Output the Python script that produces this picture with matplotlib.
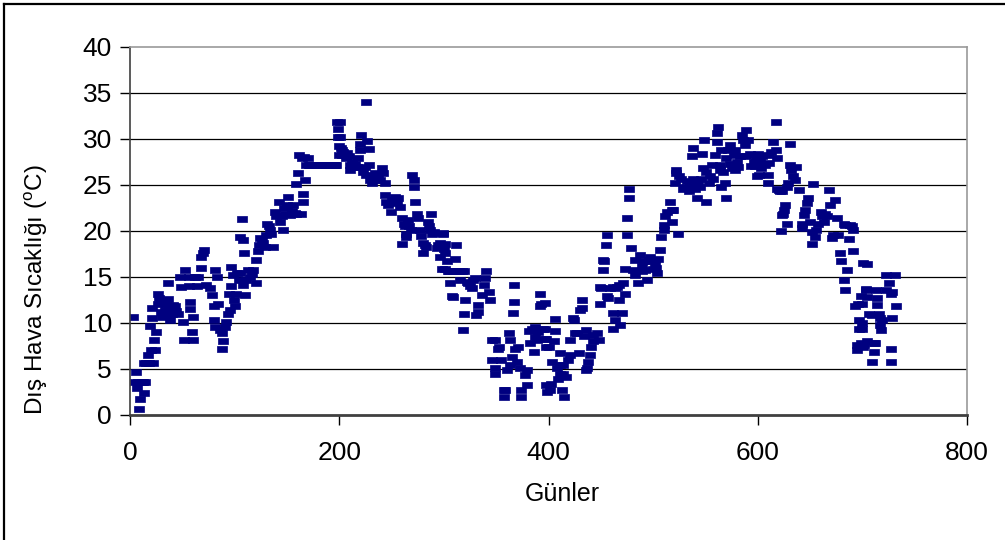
import numpy as np
import matplotlib
matplotlib.use('Agg')
import matplotlib.pyplot as plt
from matplotlib.lines import Line2D

plt.rcParams['font.family'] = ['Liberation Sans', 'DejaVu Sans']
plt.rcParams['mathtext.fontset'] = 'custom'
plt.rcParams['mathtext.rm'] = 'Liberation Sans'

# gün 0-200
gun_1 = [3, 5, 6, 7, 8, 9, 10, 11, 12, 13, 14, 13, 15, 17, 18, 19, 20, 21, 21, 22,
         23, 24, 25, 27, 27, 28, 30, 30, 31, 33, 34, 35, 36, 36, 37, 38, 39, 40, 41, 43,
         44, 46, 48, 49, 51, 52, 53, 56, 56, 57, 57, 59, 60, 60, 62, 64, 65, 68, 68, 70,
         71, 73, 76, 78, 80, 80, 81, 81, 83, 84, 86, 88, 88, 89, 91, 92, 94, 95, 96, 97,
         97, 98, 99, 100,
         101, 102, 104, 105, 105, 107, 108, 108, 109, 110, 111, 113, 115, 117, 118, 120, 120, 122, 123, 124,
         126, 127, 129, 130, 131, 133, 134, 135, 137, 139, 140, 142, 143, 145, 146, 147, 148, 150, 151, 153,
         155, 156, 158, 159, 159, 161, 162, 163, 164, 165, 165, 166, 167, 168, 170,
         171, 172, 173, 174, 175, 176, 177, 178, 179, 180, 181, 182, 183, 184, 185, 186, 187, 188, 189, 190,
         191, 192, 193, 194, 195, 196, 197, 198, 199, 199, 200, 200]
sicaklik_1 = [10.7, 3.6, 4.7, 2.9, 3.6, 0.7, 1.7, 3.6, 3.6, 2.4, 3.6, 5.6, 5.6, 6.5, 5.6, 9.7, 7.1, 11.6, 10.5, 5.6,
              8.2, 7.1, 9.0, 12.1, 13.2, 12.7, 11.2, 12.5, 10.7, 11.4, 12.1, 10.9, 14.4, 12.6, 11.8, 10.3, 11.5, 11.0, 12.0, 11.8,
              11.3, 11.0, 15.0, 13.9, 10.1, 8.2, 15.8, 15.0, 14.0, 12.3, 11.5, 9.0, 8.2, 10.7, 15.0, 14.0, 15.0, 16.0, 17.2, 17.6,
              17.9, 14.1, 13.8, 13.0, 11.8, 10.3, 15.8, 9.6, 15.0, 12.1, 9.2, 8.9, 7.2, 8.0, 9.6, 10.1, 11.0, 13.2, 11.4, 14.0,
              16.1, 15.2, 12.5, 11.8,
              13.2, 15.4, 14.7, 15.4, 19.4, 21.3, 14.1, 19.0, 17.6, 13.0, 14.7, 15.8, 15.0, 15.3, 15.8, 14.3, 16.8, 17.8, 18.5, 19.2,
              19.0, 18.7, 18.3, 19.6, 20.8, 20.5, 20.1, 19.7, 18.3, 22.1, 21.6, 23.2, 21.0, 21.6, 20.1, 22.5, 21.9, 22.8, 23.7, 21.7,
              22.2, 22.8, 22.0, 21.9, 25.1, 26.3, 28.3, 21.9, 27.9, 23.2, 24.0, 28.0, 25.5, 27.2, 27.9,
              27.2, 27.2, 27.2, 27.2, 27.2, 27.2, 27.2, 27.2, 27.2, 27.2, 27.2, 27.2, 27.2, 27.2, 27.2, 27.2, 27.2, 27.2, 27.2, 27.2,
              27.2, 27.2, 27.2, 27.2, 27.2, 27.2, 27.2, 31.9, 31.1, 30.2, 29.2, 28.3]

# gün 200-400
gun_2 = [201, 201, 202, 203, 203, 204, 206, 207, 209, 210, 210, 212, 213, 215, 217, 218, 220, 220, 221, 223,
         225, 226, 226, 227, 228, 228, 229, 231, 232, 234, 235, 237, 239, 241, 242, 244, 244, 245, 247, 249,
         250, 252, 253, 255, 256, 258, 260, 260, 262, 263, 264, 264, 266, 267, 269, 270, 271, 271, 272, 274,
         275, 277, 278, 280, 280, 282, 283, 285, 286, 287, 288, 289, 290, 291, 293, 294, 296, 296, 298, 299,
         299, 300, 301, 301, 301, 303, 304, 305, 306, 308, 309, 309, 311, 312, 312, 314, 315, 317, 318, 319,
         319, 320, 322, 323, 325, 327, 328, 330, 331, 333, 333, 336, 338, 339, 340, 343, 344, 346, 346, 349,
         349, 349, 352, 353, 355, 357, 357, 358, 360, 362, 363, 363, 365, 366, 367, 367, 368, 370, 371, 373,
         374, 374, 378, 379, 379, 381, 382, 384, 386, 387, 387, 389, 390, 392, 392, 393, 395, 397, 398, 398, 399]
sicaklik_2 = [31.9, 30.2, 29.0, 28.8, 28.3, 28.6, 27.9, 28.5, 28.1, 27.2, 26.6, 27.5, 27.0, 27.3, 27.0, 27.9, 28.8, 29.5, 30.4, 26.4,
              27.0, 34.0, 26.1, 29.8, 28.9, 27.2, 25.5, 25.2, 25.8, 26.3, 25.5, 25.9, 25.5, 26.8, 26.3, 25.2, 23.9, 23.2, 22.8, 22.1,
              23.4, 23.2, 23.7, 23.0, 23.6, 22.6, 21.4, 18.6, 20.8, 20.5, 19.7, 19.4, 21.2, 20.5, 20.1, 26.1, 25.5, 24.8, 23.2, 21.8,
              21.4, 20.1, 19.5, 18.7, 17.6, 18.5, 18.3, 21.0, 20.5, 20.1, 21.9, 19.7, 19.8, 19.9, 18.1, 18.5, 18.7, 17.2, 15.9, 19.7,
              19.8, 18.0, 18.6, 17.6, 15.9, 16.7, 15.6, 15.6, 14.4, 12.9, 12.8, 15.6, 17.0, 18.5, 15.6, 15.6, 14.7, 15.6, 9.2, 11.0,
              15.6, 12.5, 14.5, 14.3, 14.0, 13.8, 14.7, 14.9, 10.9, 12.0, 11.2, 13.0, 14.1, 14.9, 15.6, 13.4, 12.5, 8.2, 6.0, 8.2,
              4.5, 5.1, 7.2, 7.4, 6.0, 2.7, 2.0, 2.7, 4.9, 8.9, 8.2, 5.4, 6.3, 11.1, 14.1, 12.3, 7.2, 5.8, 7.4, 5.1,
              2.7, 2.0, 4.3, 4.9, 3.3, 9.1, 7.8, 9.4, 6.9, 8.5, 9.6, 8.2, 9.0, 11.8, 13.2, 12.1, 9.4, 8.3, 7.4, 3.3, 2.5]

# gün 400-600
gun_3 = [397, 397, 398, 400, 401, 402, 403, 405, 406, 406, 408, 409, 411, 411, 411, 413, 414, 414, 415, 417,
         419, 421, 421, 423, 424, 425, 427, 429, 430, 432, 432, 434, 436, 436, 437, 438, 440, 441, 443, 443,
         446, 448, 449, 449, 450, 452, 452, 453, 455, 456, 456, 457, 459, 462, 462, 462, 464, 464, 465, 467,
         467, 468, 470, 471, 473, 473, 475, 475, 477, 477, 479, 481, 483, 483, 486, 487, 489, 489, 491, 492,
         494, 496, 497, 499, 500,
         501, 502, 503, 504, 505, 507, 508, 510, 510, 511, 513, 516, 518, 518, 519, 521, 522, 522, 524, 525,
         527, 529, 530, 532, 534, 535, 537, 538, 538, 540, 542, 543, 545, 546, 547, 548, 549, 551, 551, 553,
         554, 556, 557, 559, 561, 561, 562, 564, 564, 565, 565, 567, 569, 570, 570, 572, 573, 573, 575, 577,
         578, 578, 580, 581, 583, 585, 586, 588, 589, 589, 591, 593, 594, 596, 597, 599, 600]
sicaklik_3 = [12.2, 9.3, 8.3, 7.4, 2.7, 3.4, 5.8, 8.0, 9.1, 10.4, 5.1, 3.9, 4.5, 5.4, 6.7, 2.7, 4.5, 5.4, 2.0, 4.1,
              6.0, 6.5, 8.2, 10.5, 10.3, 8.9, 8.9, 6.7, 11.4, 12.5, 11.6, 8.6, 9.2, 4.9, 5.1, 5.8, 6.5, 7.4, 8.0, 8.7,
              8.9, 8.2, 12.1, 13.9, 13.8, 15.8, 16.8, 16.7, 18.5, 19.6, 12.9, 12.7, 13.8, 13.9, 11.1, 9.4, 13.8, 10.3, 13.9, 12.5,
              14.1, 9.8, 11.1, 14.3, 13.2, 15.9, 19.6, 21.4, 23.6, 24.6, 18.1, 15.8, 16.8, 15.2, 14.3, 17.4, 15.6, 16.2, 16.7, 15.8,
              14.7, 16.8, 17.2, 16.7, 15.9,
              16.8, 16.5, 16.0, 15.4, 17.0, 17.9, 19.4, 20.1, 20.7, 21.6, 22.1, 23.2, 21.0, 22.3, 22.3, 25.2, 26.3, 26.6, 19.7, 26.0,
              25.7, 24.6, 24.8, 25.4, 24.3, 25.0, 28.1, 29.0, 25.7, 24.6, 23.6, 25.2, 24.8, 25.7, 28.4, 26.8, 29.9, 23.2, 26.4, 25.2,
              26.0, 27.2, 25.6, 28.3, 29.7, 30.6, 31.3, 27.2, 26.6, 28.8, 24.8, 26.4, 25.2, 23.6, 27.9, 28.8, 29.3, 27.3, 26.8, 28.3,
              26.6, 28.8, 27.5, 27.0, 28.1, 30.4, 29.9, 29.3, 31.0, 28.1, 29.9, 28.4, 27.1, 27.5, 27.1, 26.0, 28.4]

# gün 600-732
gun_4 = [598, 599, 601, 602, 603, 604, 607, 610, 610, 610, 611, 613, 615, 617, 617, 618, 618, 620, 621, 622,
         623, 623, 624, 625, 626, 628, 628, 629, 631, 631, 632, 634, 636, 637, 639, 642, 642, 644, 645, 647,
         648, 650, 652, 652, 653, 655, 656, 658, 660, 661, 663, 664, 666, 668, 669, 671, 672, 674, 676, 677,
         679, 680, 682, 682, 683, 683, 685, 687, 688, 690, 691, 691, 693, 695, 695, 696, 697, 697, 699, 699,
         700, 700, 700, 701, 701, 702, 703, 703, 704, 704, 704, 706, 709, 709, 711, 711, 712, 713, 714, 714,
         716, 717, 717, 718, 719, 723, 723, 725, 727, 727, 727, 728, 728, 731, 732]
sicaklik_4 = [28.0, 27.5, 26.1, 27.7, 26.8, 28.2, 27.2, 28.3, 26.1, 25.2, 27.4, 28.6, 29.7, 31.9, 28.8, 27.9, 24.6, 24.5, 24.3, 20.0,
              24.3, 21.7, 21.9, 22.3, 22.8, 20.8, 24.8, 25.2, 29.5, 27.2, 26.6, 26.0, 25.5, 27.0, 24.5, 20.8, 20.3, 21.7, 22.3, 23.0,
              23.6, 21.0, 19.9, 18.6, 25.1, 19.4, 20.1, 20.8, 22.1, 21.6, 21.0, 21.9, 21.6, 24.5, 22.8, 19.2, 19.6, 23.4, 21.4, 19.6,
              17.6, 16.7, 20.8, 14.7, 20.7, 13.6, 15.8, 19.1, 20.7, 20.5, 17.8, 20.1, 11.8, 7.6, 7.1, 12.1, 10.3, 9.4, 12.9, 7.8,
              12.1, 10.0, 9.4, 16.5, 7.4, 7.6, 13.7, 13.6, 16.4, 12.8, 8.0, 11.0, 10.9, 5.8, 7.8, 6.9, 7.8, 13.6, 12.7, 12.0,
              11.0, 10.5, 9.8, 9.2, 10.3, 15.2, 13.6, 14.3, 13.2, 7.2, 5.8, 13.4, 10.5, 15.2, 11.8]

gunler = np.array(gun_1 + gun_2 + gun_3 + gun_4)
sicaklik = np.array(sicaklik_1 + sicaklik_2 + sicaklik_3 + sicaklik_4)

fig = plt.figure(figsize=(10.05, 5.4), dpi=100)
ax = fig.add_axes([130 / 1005, 1 - 415 / 540, 837 / 1005, 368 / 540])

# yatay dikdörtgen işaret (Excel tarzı)
kare = [(-1, -0.7), (1, -0.7), (1, 0.7), (-1, 0.7), (-1, -0.7)]
ax.plot(gunler, sicaklik, linestyle='none', marker=kare, markersize=6.5,
        markerfacecolor='#000080', markeredgecolor='#000080', markeredgewidth=0.5)

ax.set_xlim(0, 800)
ax.set_ylim(0, 40)
ax.set_xticks(np.arange(0, 801, 200))
ax.set_yticks(np.arange(0, 41, 5))
for y in range(5, 40, 5):
    ax.axhline(y, color='black', linewidth=0.9, zorder=0)

ax.spines['top'].set_color('#999999')
ax.spines['right'].set_color('#999999')
ax.spines['top'].set_linewidth(1.2)
ax.spines['right'].set_linewidth(1.2)
ax.spines['bottom'].set_color('#404040')
ax.spines['bottom'].set_linewidth(2.0)
ax.spines['left'].set_color('#404040')
ax.spines['left'].set_linewidth(1.2)

ax.tick_params(axis='x', direction='out', length=7, width=1, pad=12, labelsize=19)
ax.tick_params(axis='y', direction='out', length=7, width=1, pad=6, labelsize=19)

ax.set_xlabel('Günler', fontsize=18)
ax.xaxis.set_label_coords(0.517, -0.183)
ax.set_ylabel(r'Dış Hava Sıcaklığı ($^{\rm o}$C)', fontsize=17.5)
ax.yaxis.set_label_coords(-0.095, 0.34)

# çerçeve (sol ve üst)
fig.add_artist(Line2D([4 / 1005, 4 / 1005], [0, 1 - 4 / 540], transform=fig.transFigure, color='black', linewidth=1.6))
fig.add_artist(Line2D([4 / 1005, 1], [1 - 4 / 540, 1 - 4 / 540], transform=fig.transFigure, color='black', linewidth=1.6))

fig.savefig('out.png', dpi=100)
